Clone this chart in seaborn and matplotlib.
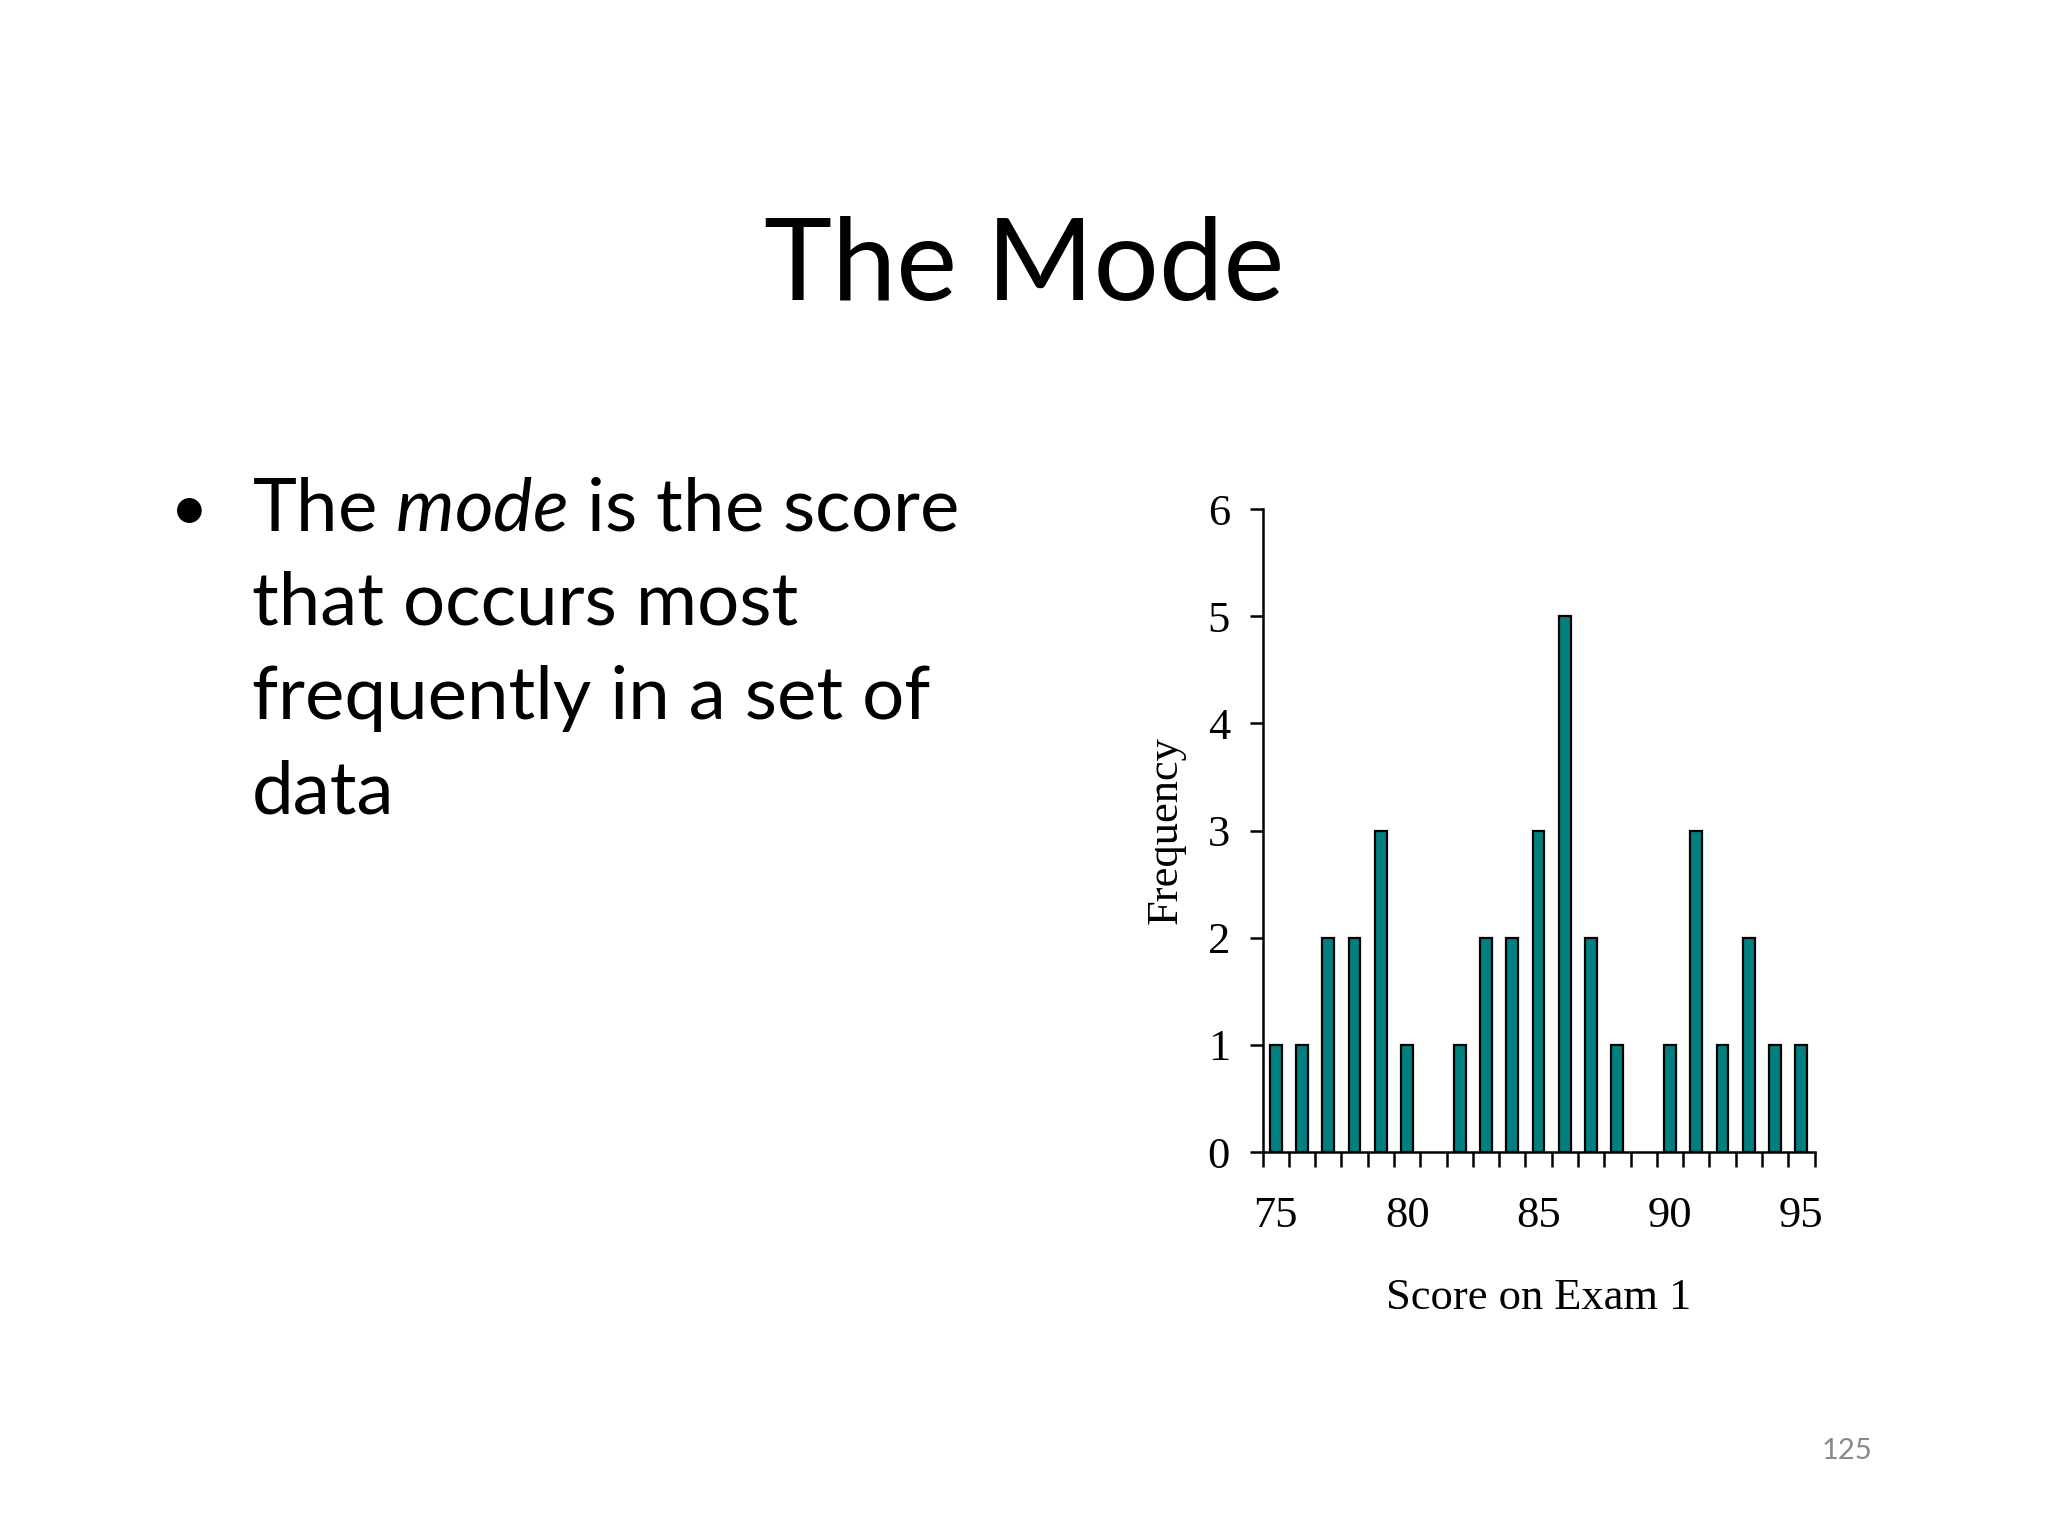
import matplotlib
matplotlib.use("Agg")
import matplotlib.pyplot as plt
import seaborn as sns
import pandas as pd
from matplotlib.ticker import FixedLocator

# data
scores = [75, 76, 77, 78, 79, 80, 81, 82, 83, 84, 85,
          86, 87, 88, 89, 90, 91, 92, 93, 94, 95]
frequency = [1, 1, 2, 2, 3, 1, 0, 1, 2, 2, 3,
             5, 2, 1, 0, 1, 3, 1, 2, 1, 1]
labelled_scores = [75, 80, 85, 90, 95]
y_ticks = [0, 1, 2, 3, 4, 5, 6]

title_text = "The Mode"
bullet_lines = [r"The $\mathit{mode}$ is the score",
                "that occurs most",
                "frequently in a set of",
                "data"]
page_number = "125"

sns.set_theme(style="white")
plt.rcParams["font.family"] = ["Liberation Serif", "DejaVu Serif"]
plt.rcParams["mathtext.fontset"] = "custom"
plt.rcParams["mathtext.rm"] = "Lato"
plt.rcParams["mathtext.it"] = "Lato:italic"

df = pd.DataFrame({"score": scores, "freq": frequency})

fig = plt.figure(figsize=(10.24, 7.68), dpi=200)
fig.patch.set_facecolor("white")
ax = fig.add_axes([0.6165, 0.25, 0.2695, 0.4186])

sns.barplot(data=df, x="score", y="freq", order=scores, color="#008080",
            width=0.45, edgecolor="black", linewidth=0.8, saturation=1,
            ax=ax)
# empty categories should not leave an outline on the axis
for bar in ax.patches:
    if bar.get_height() == 0:
        bar.set_linewidth(0)

ax.set_xlim(-0.5, len(scores) - 0.5)
ax.set_ylim(0, 6)
ax.set_facecolor("white")
for side in ["top", "right"]:
    ax.spines[side].set_visible(False)
for side in ["left", "bottom"]:
    ax.spines[side].set_color("black")
    ax.spines[side].set_linewidth(0.9)

# labels under categories, tick marks on the category boundaries
label_pos = [scores.index(s) for s in labelled_scores]
ax.xaxis.set_major_locator(FixedLocator(label_pos))
ax.set_xticklabels([str(s) for s in labelled_scores])
ax.xaxis.set_minor_locator(FixedLocator([i - 0.5 for i in range(len(scores) + 1)]))
ax.tick_params(axis="x", which="major", length=0, pad=16, labelsize=16,
               labelcolor="black")
ax.tick_params(axis="x", which="minor", bottom=True, length=5.5, width=0.9,
               direction="out", color="black")
ax.set_yticks(y_ticks)
ax.tick_params(axis="y", left=True, length=4.7, width=0.9, direction="out",
               color="black", pad=7, labelsize=16, labelcolor="black")

ax.set_xlabel("Score on Exam 1", fontsize=16, labelpad=15, color="black")
ax.set_ylabel("Frequency", fontsize=16, labelpad=8, color="black")

# slide text
fig.text(0.5, 0.8255, title_text, ha="center", va="center",
         fontsize=41.5, family="Lato", color="black")
line_y = [0.6543, 0.5931, 0.5319, 0.4707]
fig.text(0.0923, line_y[0], "\u2022", ha="center", va="baseline",
         fontsize=24, family="Lato", color="black")
for txt, y in zip(bullet_lines, line_y):
    fig.text(0.123, y, txt, ha="left", va="baseline",
             fontsize=26.8, family="Lato", color="black")
fig.text(0.9019, 0.0553, page_number, ha="center", va="center",
         fontsize=10.5, family="Lato", color="#898989")

fig.savefig("out.png", dpi=200, facecolor="white")
